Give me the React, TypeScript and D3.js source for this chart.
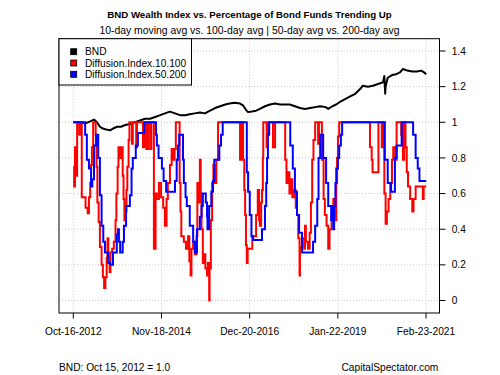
import React from "react";
import * as d3 from "d3";

const titleText = "BND Wealth Index vs. Percentage of Bond Funds Trending Up";
const subtitleText = "10-day moving avg vs. 100-day avg | 50-day avg vs. 200-day avg";
const footLeft = "BND: Oct 15, 2012 = 1.0";
const footRight = "CapitalSpectator.com";
const seriesNames = ["BND", "Diffusion.Index.10.100", "Diffusion.Index.50.200"];
const seriesColors = ["#000000", "#FF0000", "#0000FF"];
const xTickDates = ["2012-10-16", "2014-11-18", "2016-12-20", "2019-01-22", "2021-02-23"];
const yTicks = [0, 0.2, 0.4, 0.6, 0.8, 1, 1.2, 1.4];

// BND wealth index (decimal year, value)
const bndYears = [2012.79, 2012.95, 2013.09, 2013.19, 2013.28, 2013.35, 2013.42, 2013.49, 2013.57, 2013.66, 2013.73, 2013.83, 2013.92, 2014.02, 2014.13, 2014.25, 2014.37, 2014.49, 2014.61, 2014.73, 2014.85, 2014.96, 2015.08, 2015.20, 2015.32, 2015.44, 2015.55, 2015.67, 2015.79, 2015.91, 2016.03, 2016.15, 2016.27, 2016.39, 2016.49, 2016.61, 2016.74, 2016.81, 2016.88, 2016.93, 2017.02, 2017.12, 2017.21, 2017.33, 2017.45, 2017.57, 2017.69, 2017.81, 2017.92, 2018.04, 2018.16, 2018.28, 2018.40, 2018.52, 2018.64, 2018.77, 2018.83, 2018.93, 2019.02, 2019.11, 2019.23, 2019.35, 2019.47, 2019.58, 2019.65, 2019.77, 2019.89, 2020.01, 2020.13, 2020.16, 2020.18, 2020.19, 2020.24, 2020.34, 2020.44, 2020.53, 2020.60, 2020.70, 2020.82, 2020.93, 2021.03, 2021.10, 2021.15];
const bndValues = [1.0, 1.0, 0.995, 1.005, 1.015, 1.0, 0.975, 0.965, 0.96, 0.955, 0.965, 0.975, 0.975, 0.985, 0.99, 1.0, 1.01, 1.02, 1.02, 1.03, 1.04, 1.05, 1.06, 1.05, 1.04, 1.04, 1.045, 1.05, 1.055, 1.05, 1.065, 1.08, 1.09, 1.1, 1.105, 1.11, 1.105, 1.095, 1.07, 1.057, 1.06, 1.065, 1.075, 1.09, 1.1, 1.105, 1.1, 1.1, 1.1, 1.09, 1.08, 1.075, 1.08, 1.085, 1.09, 1.085, 1.075, 1.09, 1.1, 1.115, 1.13, 1.145, 1.16, 1.185, 1.205, 1.2, 1.205, 1.215, 1.225, 1.26, 1.16, 1.2, 1.25, 1.265, 1.27, 1.28, 1.3, 1.29, 1.285, 1.285, 1.29, 1.28, 1.27];

// Diffusion index 10/100 (step series)
const d10Years = [2012.79, 2012.81, 2012.83, 2012.85, 2012.88, 2012.93, 2012.95, 2012.99, 2013.08, 2013.13, 2013.16, 2013.19, 2013.21, 2013.23, 2013.26, 2013.32, 2013.34, 2013.36, 2013.39, 2013.42, 2013.46, 2013.49, 2013.52, 2013.55, 2013.58, 2013.60, 2013.62, 2013.65, 2013.67, 2013.71, 2013.75, 2013.79, 2013.81, 2013.84, 2013.86, 2013.90, 2013.93, 2013.96, 2013.98, 2014.00, 2014.03, 2014.05, 2014.07, 2014.10, 2014.12, 2014.18, 2014.20, 2014.28, 2014.30, 2014.44, 2014.48, 2014.52, 2014.56, 2014.61, 2014.64, 2014.70, 2014.74, 2014.77, 2014.82, 2014.87, 2014.92, 2014.96, 2015.00, 2015.03, 2015.08, 2015.12, 2015.15, 2015.19, 2015.22, 2015.31, 2015.33, 2015.35, 2015.41, 2015.46, 2015.51, 2015.54, 2015.57, 2015.59, 2015.63, 2015.67, 2015.71, 2015.73, 2015.75, 2015.79, 2015.81, 2015.83, 2015.86, 2015.90, 2015.92, 2015.96, 2015.98, 2016.01, 2016.02, 2016.05, 2016.08, 2016.11, 2016.15, 2016.18, 2016.22, 2016.74, 2016.78, 2016.81, 2016.84, 2016.86, 2016.88, 2016.90, 2016.92, 2017.03, 2017.10, 2017.12, 2017.16, 2017.19, 2017.21, 2017.24, 2017.26, 2017.28, 2017.29, 2017.37, 2017.40, 2017.52, 2017.57, 2017.81, 2017.84, 2017.88, 2017.91, 2017.95, 2017.98, 2018.02, 2018.06, 2018.09, 2018.12, 2018.15, 2018.16, 2018.21, 2018.26, 2018.28, 2018.30, 2018.35, 2018.39, 2018.42, 2018.45, 2018.48, 2018.52, 2018.59, 2018.61, 2018.68, 2018.72, 2018.75, 2018.79, 2018.83, 2018.86, 2018.91, 2018.95, 2018.98, 2019.02, 2019.04, 2019.06, 2019.09, 2019.82, 2019.86, 2019.88, 2020.02, 2020.10, 2020.12, 2020.16, 2020.19, 2020.22, 2020.26, 2020.30, 2020.34, 2020.37, 2020.42, 2020.45, 2020.56, 2020.58, 2020.60, 2020.63, 2020.66, 2020.69, 2020.72, 2020.77, 2020.82, 2020.85, 2020.90, 2021.07, 2021.09, 2021.15];
const d10Values = [0.75, 0.64, 0.86, 0.7, 1.0, 0.93, 1.0, 0.58, 0.52, 0.49, 0.58, 0.66, 0.76, 0.86, 1.0, 0.93, 0.75, 0.55, 0.44, 0.3, 0.2, 0.13, 0.07, 0.13, 0.24, 0.35, 0.25, 0.16, 0.27, 0.29, 0.33, 0.45, 0.6, 0.75, 0.86, 0.8, 0.86, 0.7, 0.57, 0.45, 0.5, 0.62, 0.75, 0.9, 1.0, 0.88, 1.0, 0.86, 1.0, 0.86, 1.0, 0.85, 1.0, 0.85, 1.0, 0.29, 0.6, 0.57, 0.66, 0.58, 0.52, 0.42, 0.57, 0.66, 0.76, 0.85, 0.79, 0.85, 1.0, 0.66, 0.5, 0.36, 0.33, 0.29, 0.36, 0.22, 0.14, 0.29, 0.33, 0.26, 0.36, 0.66, 0.55, 0.79, 0.6, 0.4, 0.21, 0.26, 0.18, 0.14, 0.21, 0.0, 0.18, 0.45, 0.66, 0.76, 0.66, 0.79, 1.0, 0.79, 1.0, 0.79, 0.62, 0.48, 0.31, 0.21, 0.29, 0.36, 0.36, 0.48, 0.62, 0.45, 0.42, 0.55, 0.62, 0.8, 1.0, 0.86, 1.0, 0.86, 1.0, 0.79, 0.66, 0.72, 0.6, 0.68, 0.58, 0.62, 0.52, 0.48, 0.35, 0.14, 0.3, 0.35, 0.29, 0.42, 0.33, 0.29, 0.38, 0.55, 0.79, 0.9, 1.0, 0.88, 1.0, 0.79, 0.57, 0.48, 0.42, 0.29, 0.4, 0.48, 0.57, 0.45, 0.66, 0.8, 0.92, 1.0, 0.86, 0.79, 0.72, 1.0, 0.86, 1.0, 0.6, 0.43, 0.5, 0.57, 0.66, 0.79, 0.86, 0.79, 1.0, 0.93, 1.0, 0.79, 1.0, 0.86, 0.72, 0.64, 0.57, 0.5, 0.57, 0.64, 0.57, 0.64, 0.64];

// Diffusion index 50/200 (step series)
const d50Years = [2012.79, 2013.07, 2013.11, 2013.16, 2013.21, 2013.24, 2013.28, 2013.33, 2013.38, 2013.42, 2013.46, 2013.50, 2013.54, 2013.61, 2013.66, 2013.73, 2013.82, 2013.85, 2013.87, 2013.90, 2013.96, 2013.99, 2014.04, 2014.13, 2014.17, 2014.20, 2014.27, 2014.32, 2014.47, 2014.75, 2014.77, 2014.81, 2014.89, 2014.93, 2014.99, 2015.20, 2015.24, 2015.27, 2015.30, 2015.39, 2015.41, 2015.45, 2015.48, 2015.55, 2015.63, 2015.67, 2015.72, 2015.79, 2015.83, 2015.86, 2015.93, 2015.96, 2015.97, 2016.01, 2016.06, 2016.10, 2016.13, 2016.25, 2016.29, 2016.33, 2016.90, 2016.93, 2016.97, 2017.01, 2017.05, 2017.26, 2017.33, 2017.36, 2017.38, 2017.40, 2017.43, 2017.93, 2017.99, 2018.04, 2018.09, 2018.14, 2018.21, 2018.47, 2018.52, 2018.57, 2018.60, 2018.64, 2018.71, 2018.78, 2018.83, 2018.90, 2018.92, 2018.95, 2018.97, 2019.00, 2019.02, 2019.06, 2019.09, 2019.13, 2019.16, 2020.17, 2020.24, 2020.32, 2020.41, 2020.45, 2020.57, 2020.84, 2020.90, 2020.95, 2020.99, 2021.15];
const d50Values = [1.0, 0.93, 0.79, 0.74, 0.64, 0.68, 0.87, 0.93, 0.8, 0.59, 0.42, 0.33, 0.27, 0.21, 0.2, 0.27, 0.37, 0.4, 0.33, 0.27, 0.33, 0.42, 0.53, 0.59, 0.74, 0.8, 0.87, 0.94, 1.0, 0.93, 0.87, 0.8, 0.74, 0.67, 0.61, 0.67, 0.79, 0.87, 0.93, 0.79, 0.66, 0.58, 0.53, 0.42, 0.33, 0.27, 0.4, 0.47, 0.53, 0.6, 0.55, 0.47, 0.4, 0.53, 0.61, 0.67, 0.79, 0.87, 0.93, 1.0, 0.72, 0.61, 0.48, 0.36, 0.34, 0.4, 0.53, 0.66, 0.8, 0.93, 1.0, 0.87, 0.74, 0.61, 0.48, 0.38, 0.27, 0.33, 0.42, 0.57, 0.8, 0.93, 0.8, 0.66, 0.53, 0.45, 0.53, 0.4, 0.53, 0.66, 0.74, 0.8, 0.87, 0.93, 1.0, 0.79, 0.66, 0.61, 0.8, 0.87, 1.0, 0.93, 0.8, 0.74, 0.67, 0.67];

function yearToDate(y: number): Date {
  const yr = Math.floor(y);
  const s = Date.UTC(yr, 0, 1);
  const e = Date.UTC(yr + 1, 0, 1);
  return new Date(s + (y - yr) * (e - s));
}

const FONT = "'Liberation Sans', Arial, Helvetica, sans-serif";

export default function App() {
  const W = 500;
  const H = 375;
  const box = { left: 59, right: 439.5, top: 38.7, bottom: 313 };
  const parse = d3.utcParse("%Y-%m-%d");
  const fmt = d3.utcFormat("%b-%d-%Y");
  const tickDates = xTickDates.map((s) => parse(s) as Date);
  const x = d3.scaleUtc().domain([tickDates[0], tickDates[tickDates.length - 1]]).range([73.3, 426]);
  const y = d3.scaleLinear().domain([0, 1.4]).range([300.5, 51]);

  const mk = (ys: number[], vs: number[]) => ys.map((yr, i) => ({ d: yearToDate(yr), v: vs[i] }));
  const bnd = mk(bndYears, bndValues);
  const d10 = mk(d10Years, d10Values);
  const d50 = mk(d50Years, d50Values);

  const lineLin = d3.line<{ d: Date; v: number }>().x((p) => x(p.d)).y((p) => y(p.v));
  const lineStep = d3
    .line<{ d: Date; v: number }>()
    .x((p) => x(p.d))
    .y((p) => y(p.v))
    .curve(d3.curveStepAfter);

  const legendRows = [51.7, 63, 74.3];

  return (
    <svg
      width={W}
      height={H}
      style={{ position: "absolute", left: 0, top: 0, display: "block", background: "#fff" }}
      fontFamily={FONT}
    >
      <rect x={0} y={0} width={W} height={H} fill="#fff" />
      <text x={249.5} y={18.3} textAnchor="middle" fontWeight="bold" fontSize={9.7} fill="#000">
        {titleText}
      </text>
      <text x={249.5} y={34.3} textAnchor="middle" fontSize={10.4} fill="#000">
        {subtitleText}
      </text>

      {/* grid */}
      <g stroke="#c8c8c8" strokeWidth={1} strokeDasharray="1 2">
        {yTicks.map((t) => (
          <line key={"gy" + t} x1={box.left} x2={box.right} y1={y(t)} y2={y(t)} />
        ))}
        {tickDates.map((t, i) => (
          <line key={"gx" + i} x1={x(t)} x2={x(t)} y1={box.top} y2={box.bottom} />
        ))}
      </g>

      {/* series */}
      <path d={lineLin(bnd) || ""} fill="none" stroke={seriesColors[0]} strokeWidth={2} strokeLinejoin="round" />
      <path d={lineStep(d10) || ""} fill="none" stroke={seriesColors[1]} strokeWidth={2} />
      <path d={lineStep(d50) || ""} fill="none" stroke={seriesColors[2]} strokeWidth={2} />

      {/* box */}
      <rect
        x={box.left}
        y={box.top}
        width={box.right - box.left}
        height={box.bottom - box.top}
        fill="none"
        stroke="#000"
        strokeWidth={1}
      />

      {/* right axis */}
      <g fontSize={10.2} fill="#000">
        {yTicks.map((t) => (
          <g key={"yt" + t}>
            <line x1={box.right} x2={box.right + 6} y1={y(t)} y2={y(t)} stroke="#000" />
            <text x={451.7} y={y(t) + 3.6}>
              {String(t)}
            </text>
          </g>
        ))}
      </g>

      {/* bottom axis */}
      <g fontSize={10.2} fill="#000">
        {tickDates.map((t, i) => (
          <g key={"xt" + i}>
            <line x1={x(t)} x2={x(t)} y1={box.bottom} y2={box.bottom + 5.5} stroke="#000" />
            <text x={x(t)} y={335} textAnchor="middle">
              {fmt(t)}
            </text>
          </g>
        ))}
      </g>

      {/* legend */}
      <rect x={box.left} y={box.top} width={132.5} height={46.3} fill="#fff" stroke="#000" strokeWidth={1} />
      {seriesNames.map((n, i) => (
        <g key={n}>
          <rect
            x={70.7}
            y={legendRows[i] - 3}
            width={6}
            height={6}
            fill={seriesColors[i]}
            stroke="#000"
            strokeWidth={0.8}
          />
          <text x={85} y={legendRows[i] + 3.6} fontSize={10.2} fill="#000">
            {n}
          </text>
        </g>
      ))}

      <text x={59} y={370.7} fontSize={10.2} fill="#000">
        {footLeft}
      </text>
      <text x={438.3} y={370.7} fontSize={10.2} textAnchor="end" fill="#000">
        {footRight}
      </text>
    </svg>
  );
}
